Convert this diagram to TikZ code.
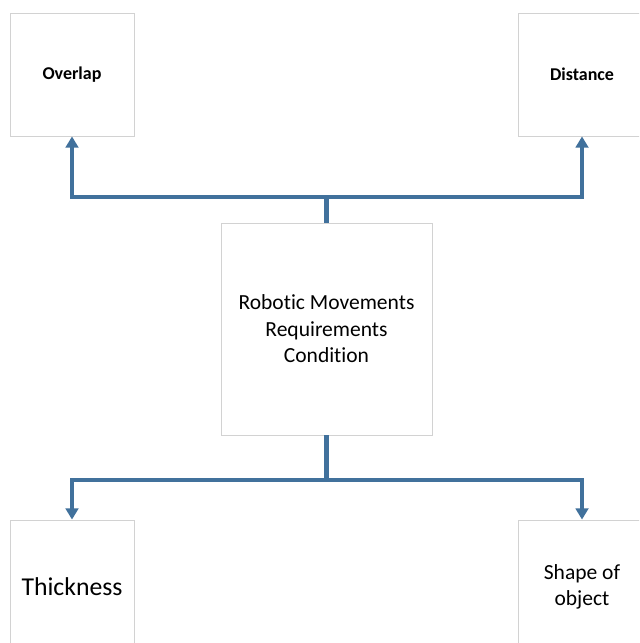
\documentclass[tikz,border=0pt]{standalone}
\usepackage{fontspec}
\setmainfont[Ligatures={NoCommon}]{Carlito}
\usetikzlibrary{arrows.meta}
\definecolor{linkblue}{RGB}{65,113,156}

\begin{document}
\begin{tikzpicture}[x=0.025cm,y=-0.025cm,
  box node/.style={draw=gray!35,line width=0.6pt,fill=white,inner sep=0pt,align=center},
  small label/.style={font=\bfseries\fontsize{12.8}{15}\selectfont},
  mid label/.style={font=\fontsize{15.3}{18.8}\selectfont},
  big label/.style={font=\fontsize{18.3}{22}\selectfont},
  link/.style={draw=linkblue,line width=3pt},
  flow/.style={link,-{Triangle[width=9pt,length=8pt]}}]
\useasboundingbox[fill=white] (0,0) rectangle (639,643);
\clip (0,0) rectangle (639,643);

% top boxes
  \node[box node,small label,minimum width=3.1cm,minimum height=3.075cm] (overlap) at (72,74.5) {Overlap};
  \node[box node,small label,minimum width=3.2cm,minimum height=3.075cm] (distance) at (582,74.5) {Distance};

% centre box
  \node[box node,mid label,minimum width=5.275cm,minimum height=5.3cm] (robot) at (326.5,329)
    {Robotic Movements\\Requirements\\Condition};

% bottom boxes
  \node[box node,big label,minimum width=3.1cm,minimum height=3.35cm] (thick) at (72,587) {Thickness};
  \node[box node,mid label,minimum width=3.2cm,minimum height=3.35cm] (shape) at (582,587) {Shape of\\object};

% junctions
  \coordinate (upbar) at (326.5,197);
  \coordinate (downbar) at (326.5,480);

  \draw[link] (robot.north) -- (upbar);
  \draw[flow] (upbar) -| (overlap.south);
  \draw[flow] (upbar) -| (distance.south);

  \draw[link] (robot.south) -- (downbar);
  \draw[flow] (downbar) -| (thick.north);
  \draw[flow] (downbar) -| (shape.north);

\end{tikzpicture}
\end{document}
